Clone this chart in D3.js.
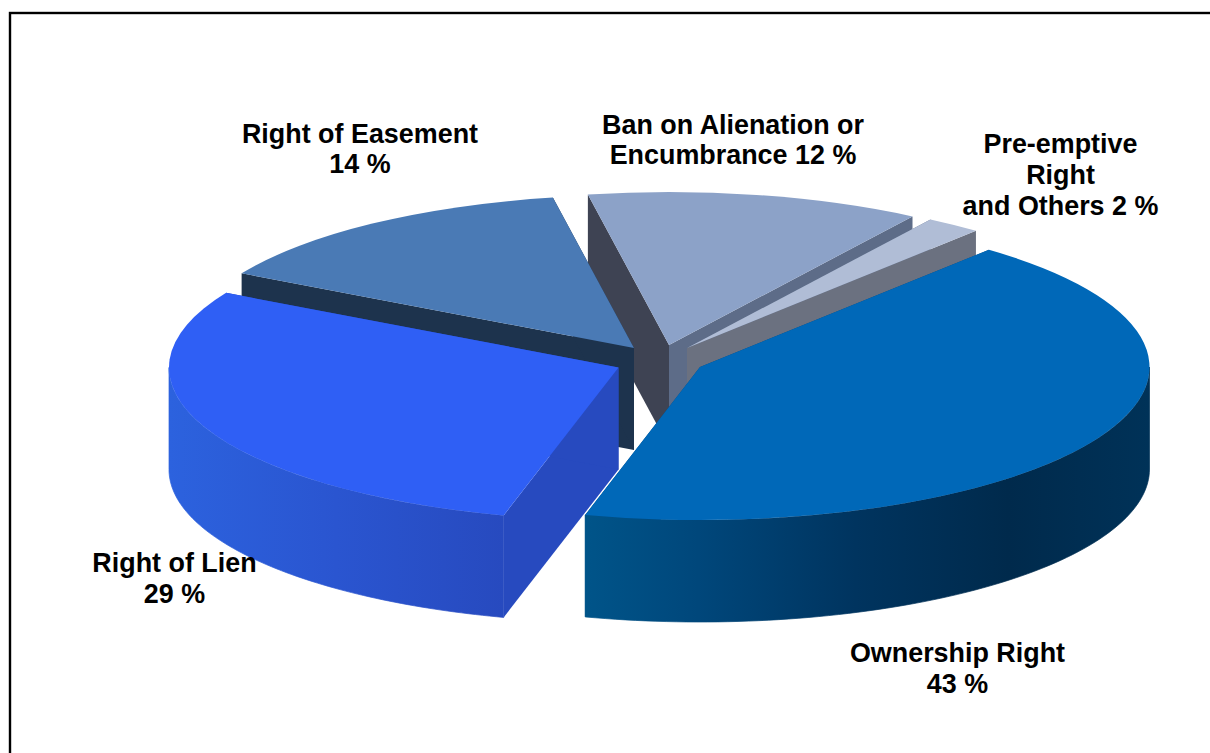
<!DOCTYPE html>
<html>
<head>
<meta charset="utf-8">
<script src="https://cdn.jsdelivr.net/npm/d3@7"></script>
<style>
  html, body { margin: 0; padding: 0; background: #fff; overflow: hidden; }
  svg { display: block; }
  text { font-family: "Liberation Sans", Arial, sans-serif; font-weight: 700; fill: #000; }
</style>
</head>
<body>
<svg id="chart" width="1210" height="753"></svg>
<script>
// Encumbrance types, clockwise from the upper right of the pie
const categories = ["Ownership Right", "Right of Lien", "Right of Easement", "Ban on Alienation or Encumbrance", "Pre-emptive Right and Others"];
const shares = [43, 29, 14, 12, 2];
const labelLines = [
  ["Ownership Right", "43 %"],
  ["Right of Lien", "29 %"],
  ["Right of Easement", "14 %"],
  ["Ban on Alienation or", "Encumbrance 12 %"],
  ["Pre-emptive", "Right", "and Others 2 %"]
];

// Appearance of each slice
const topColors = ["#0068b8", "#2f5ff5", "#4a7ab5", "#8ca2c8", "#b0bdd6"];
const startWallColors = ["#00477b", "#274abf", "#1d334d", "#3e4353", "#5d6c88"];
const endWallColors = ["#00477b", "#274abf", "#1d334d", "#5d6c88", "#6b7180"];
const rimStops = [
  [[0, "#005489"], [0.2, "#00477b"], [0.48, "#00345f"], [0.75, "#002a4c"], [1, "#003258"]],
  [[0, "#2c62de"], [0.5, "#2a55d0"], [1, "#274abf"]],
  [[0, "#1d334d"], [1, "#1d334d"]],
  [[0, "#3e4353"], [1, "#3e4353"]],
  [[0, "#6b7180"], [1, "#6b7180"]]
];

// Pull-out position of each slice's apex, and its label anchor
const apexes = [[700, 367], [618.5, 367.5], [634, 348], [669, 345], [687, 348]];
const labelAnchors = [[957.5, 662], [174.5, 572], [360, 142.5], [733, 133.5], [1060.5, 153]];

const rx = 449.5, ry = 153, depth = 102;
const firstSliceAngle = 40 * Math.PI / 180;
const fontSize = 26.9, lineStep = 30.8;
// Slices are painted from back to front
const paintOrder = [3, 4, 2, 0, 1];

const svg = d3.select("#chart");
svg.append("rect").attr("width", 1210).attr("height", 753).attr("fill", "#fff");
svg.append("rect")
  .attr("x", 10).attr("y", 13).attr("width", 1400).attr("height", 1000)
  .attr("fill", "none").attr("stroke", "#000").attr("stroke-width", 2.4);

const pie = d3.pie().sort(null).startAngle(firstSliceAngle).endAngle(firstSliceAngle + 2 * Math.PI);
const arcs = pie(shares);
const defs = svg.append("defs");
const chartLayer = svg.append("g");

const pointAt = (apex, angle, drop = 0) => [
  apex[0] + rx * Math.sin(angle),
  apex[1] - ry * Math.cos(angle) + drop
];
const line = d3.line();
const arcTop = d3.arc().innerRadius(0).outerRadius(rx);

paintOrder.forEach(i => {
  const slice = arcs[i];
  const apex = apexes[i];
  const g = chartLayer.append("g").attr("class", "slice").attr("data-name", categories[i]);

  // Straight cut faces
  [[slice.startAngle, startWallColors[i]], [slice.endAngle, endWallColors[i]]].forEach(([angle, color]) => {
    g.append("path")
      .attr("d", line([apex, pointAt(apex, angle), pointAt(apex, angle, depth), [apex[0], apex[1] + depth]]) + "Z")
      .attr("fill", color);
  });

  // Curved rim: only the part on the near side of the ellipse shows
  const from = Math.max(slice.startAngle, Math.PI / 2);
  const to = Math.min(slice.endAngle, 3 * Math.PI / 2);
  if (to > from) {
    const steps = d3.range(0, 81).map(k => from + (to - from) * k / 80);
    const upper = steps.map(a => pointAt(apex, a));
    const lower = steps.map(a => pointAt(apex, a, depth)).reverse();
    const xs = upper.map(p => p[0]);
    const id = "rim" + i;
    const grad = defs.append("linearGradient")
      .attr("id", id).attr("gradientUnits", "userSpaceOnUse")
      .attr("x1", d3.min(xs)).attr("x2", d3.max(xs)).attr("y1", 0).attr("y2", 0);
    rimStops[i].forEach(([offset, color]) => {
      grad.append("stop").attr("offset", offset).attr("stop-color", color);
    });
    g.append("path").attr("d", line(upper.concat(lower)) + "Z")
      .attr("fill", `url(#${id})`)
      .attr("stroke", `url(#${id})`).attr("stroke-width", 0.7);
  }

  // Top face: a circular d3 arc flattened into an ellipse
  g.append("path")
    .attr("transform", `translate(${apex[0]},${apex[1]}) scale(1,${ry / rx})`)
    .attr("d", arcTop(slice))
    .attr("fill", topColors[i]);
});

// Labels
labelLines.forEach((lines, i) => {
  const t = svg.append("text")
    .attr("text-anchor", "middle")
    .attr("font-size", fontSize);
  lines.forEach((s, k) => {
    t.append("tspan")
      .attr("x", labelAnchors[i][0])
      .attr("y", labelAnchors[i][1] + k * lineStep)
      .text(s);
  });
});
</script>
</body>
</html>
